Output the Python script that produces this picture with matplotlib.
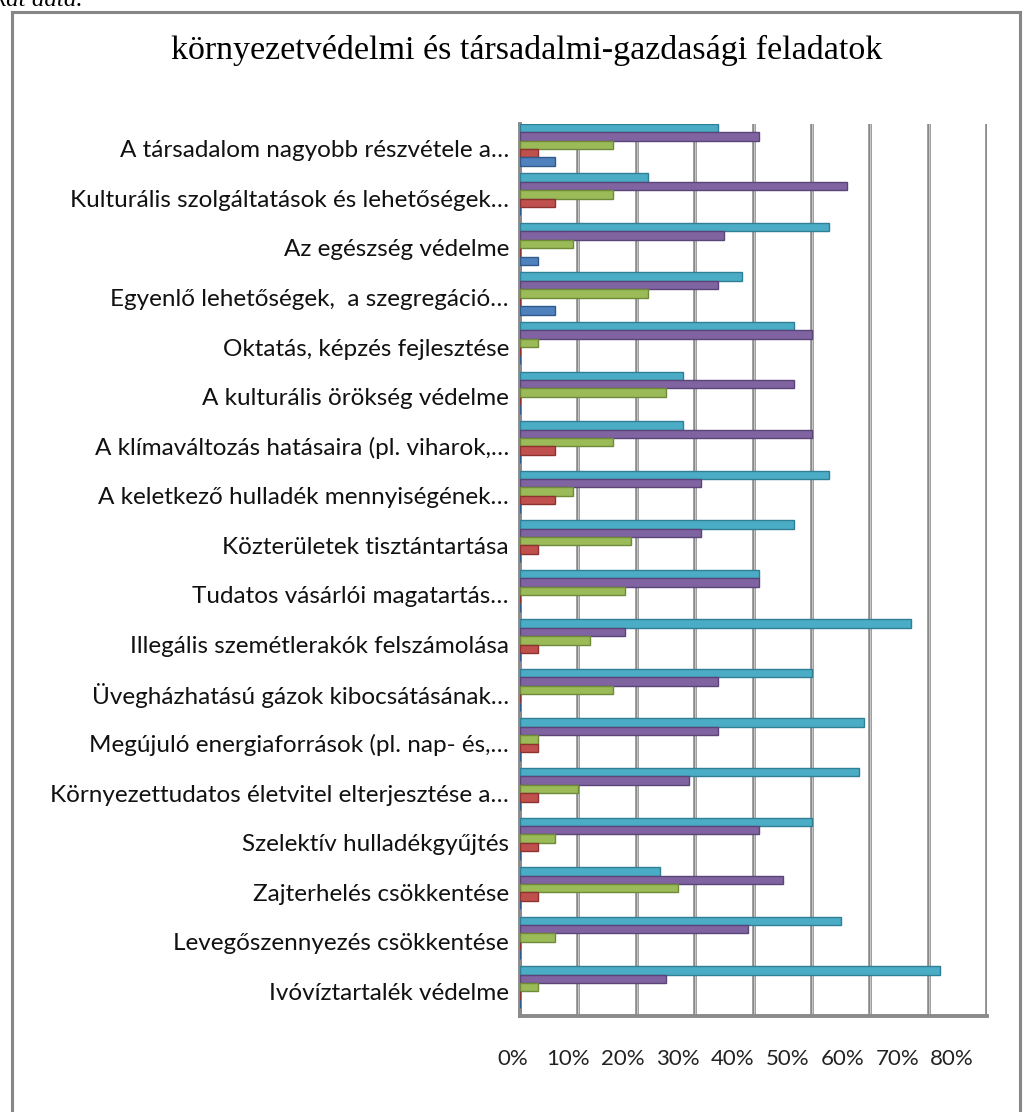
import matplotlib
matplotlib.use("Agg")
from matplotlib import pyplot as plt
from matplotlib.lines import Line2D
import numpy as np

categories = [
    "A társadalom nagyobb részvétele a…",
    "Kulturális szolgáltatások és lehetőségek…",
    "Az egészség védelme",
    "Egyenlő lehetőségek,  a szegregáció…",
    "Oktatás, képzés fejlesztése",
    "A kulturális örökség védelme",
    "A klímaváltozás hatásaira (pl. viharok,…",
    "A keletkező hulladék mennyiségének…",
    "Közterületek tisztántartása",
    "Tudatos vásárlói magatartás…",
    "Illegális szemétlerakók felszámolása",
    "Üvegházhatású gázok kibocsátásának…",
    "Megújuló energiaforrások (pl. nap- és,…",
    "Környezettudatos életvitel elterjesztése a…",
    "Szelektív hulladékgyűjtés",
    "Zajterhelés csökkentése",
    "Levegőszennyezés csökkentése",
    "Ivóvíztartalék védelme",
]

# values in percent, one list per series (top to bottom within a group)
cyan_vals   = [34, 22, 53, 38, 47, 28, 28, 53, 47, 41, 67, 50, 59, 58, 50, 24, 55, 72]
purple_vals = [41, 56, 35, 34, 50, 47, 50, 31, 31, 41, 18, 34, 34, 29, 41, 45, 39, 25]
green_vals  = [16, 16,  9, 22,  3, 25, 16,  9, 19, 18, 12, 16,  3, 10,  6, 27,  6,  3]
red_vals    = [ 3,  6,  0,  0,  0,  0,  6,  6,  3,  0,  3,  0,  3,  3,  3,  3,  0,  0]
blue_vals   = [ 6,  0,  3,  6,  0,  0,  0,  0,  0,  0,  0,  0,  0,  0,  0,  0,  0,  0]

xticks = [0, 10, 20, 30, 40, 50, 60, 70, 80]

series = [
    (cyan_vals,   "#4BACC6", "#2f7f96"),
    (purple_vals, "#8064A2", "#5a4478"),
    (green_vals,  "#9BBB59", "#6f8b38"),
    (red_vals,    "#C0504D", "#8c3330"),
    (blue_vals,   "#4F81BD", "#30598c"),
]

W, H = 1033, 1112
fig = plt.figure(figsize=(W / 100, H / 100), dpi=100)
ax = fig.add_axes([520 / W, 1 - 1016 / H, (987 - 520) / W, (1016 - 124) / H])

y = np.arange(len(categories))
bh = 0.17
for k, (vals, col, edge) in enumerate(series):
    off = (k - 2) * bh - 0.08
    ax.barh(y + off, vals, height=bh, color=col, edgecolor=edge, linewidth=1.0, zorder=3)

ax.set_ylim(len(categories) - 0.5, -0.5)
ax.set_xlim(0, 80)
ax.set_xticks(xticks)
ax.set_xticklabels([])
ax.tick_params(axis="x", length=0)
ax.set_yticks(y)
ax.set_yticklabels(categories, fontsize=17.5, family="Lato", color="#111111")
ax.tick_params(axis="y", length=0, pad=8)

for t in xticks:
    ax.axvline(t, color="#8a8a8a", linewidth=2.6, zorder=1)
    ax.axvline(t, color="#c8c8c8", linewidth=0.7, zorder=1)

for s in ["top", "right"]:
    ax.spines[s].set_visible(False)
for s in ["left", "bottom"]:
    ax.spines[s].set_color("#8a8a8a")
    ax.spines[s].set_linewidth(2.8)

# tick labels sit on the front edge of the 3D floor, slightly narrower than the back wall
lab = fig.add_axes([513 / W, 1 - 1016 / H, (952 - 513) / W, 0.001])
lab.set_xlim(0, 80)
lab.set_xticks(xticks)
lab.set_xticklabels([f"{t}%" for t in xticks], fontsize=16, family="Lato", color="#222222")
lab.tick_params(axis="x", length=0, pad=24)
lab.set_yticks([])
for s in lab.spines.values():
    s.set_visible(False)
lab.patch.set_alpha(0)

fig.text(527 / W, 1 - 50 / H, "környezetvédelmi és társadalmi-gazdasági feladatok",
         ha="center", va="center", fontsize=24.5, family="Liberation Serif")

fig.text(-0.005, 1.0, "kat adta.", ha="left", va="center", fontsize=18,
         family="Liberation Serif", style="italic")

# chart border
for xs, ys in [([12, 12], [12, H + 5]), ([12, 1020], [12, 12]), ([1020, 1020], [12, H + 5])]:
    fig.add_artist(Line2D([x / W for x in xs], [1 - v / H for v in ys],
                          color="#868686", linewidth=2.2))

fig.savefig("out.png", dpi=100, facecolor="white")
